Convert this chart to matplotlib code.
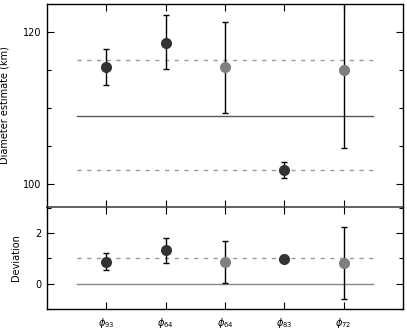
import matplotlib
matplotlib.use("Agg")
import matplotlib.pyplot as plt
from matplotlib.ticker import MultipleLocator

# Data
x_pos = [1, 2, 3, 4, 5]
tick_labels = [r"$\phi_{93}$", r"$\phi_{64}$", r"$\phi_{64}$", r"$\phi_{83}$", r"$\phi_{72}$"]
diam = [115.4, 118.6, 115.35, 101.8, 115.0]
diam_lo = [113.0, 115.1, 109.3, 100.8, 104.7]
diam_hi = [117.8, 122.2, 121.3, 102.9, 125.3]
dev = [0.87, 1.32, 0.87, 0.99, 0.83]
dev_lo = [0.54, 0.83, 0.04, 0.92, -0.60]
dev_hi = [1.21, 1.80, 1.67, 1.07, 2.24]
point_colors = ["#333333", "#333333", "#7f7f7f", "#333333", "#7f7f7f"]
mean_diam = 109.0
band_diam = [101.8, 116.3]
dev_ref = 1.0

plt.rcParams["font.family"] = "DejaVu Sans"
plt.rcParams["font.size"] = 7

fig = plt.figure(figsize=(4.07, 3.30), dpi=100)
ax1 = fig.add_axes([0.1155, 0.373, 0.8745, 0.615])
ax2 = fig.add_axes([0.1155, 0.064, 0.8745, 0.309])
ax2.patch.set_visible(False)


def draw_points(ax, vals, lo, hi):
    for xi, v, l, h, c in zip(x_pos, vals, lo, hi, point_colors):
        ax.errorbar([xi], [v], yerr=[[v - l], [h - v]], fmt="none",
                    ecolor="black", elinewidth=1.0, capsize=2, capthick=1.0,
                    zorder=2)
        ax.plot([xi], [v], "o", color=c, markersize=8, markeredgewidth=0,
                zorder=3)


# Top panel: diameter estimates
ax1.plot([0.5, 5.5], [mean_diam, mean_diam], color="#555555", lw=1.0)
for b in band_diam:
    ax1.plot([0.5, 5.5], [b, b], color="#999999", lw=1.0, ls=(0, (3, 4)))
draw_points(ax1, diam, diam_lo, diam_hi)
ax1.set_xlim(0, 6)
ax1.set_ylim(97.0, 123.7)
ax1.set_xticks(x_pos)
ax1.set_xticklabels([])
ax1.yaxis.set_major_locator(MultipleLocator(20))
ax1.yaxis.set_minor_locator(MultipleLocator(5))
ax1.set_ylabel("Diameter estimate (km)", labelpad=10)
ax1.spines["bottom"].set_color("#555555")
ax1.spines["bottom"].set_linewidth(1.3)

# Bottom panel: deviation
ax2.plot([0.5, 5.5], [0, 0], color="#888888", lw=1.0)
ax2.plot([0.5, 5.5], [dev_ref, dev_ref], color="#999999", lw=1.0, ls=(0, (3, 4)))
draw_points(ax2, dev, dev_lo, dev_hi)
ax2.set_xlim(0, 6)
ax2.set_ylim(-1.0, 3.04)
ax2.set_xticks(x_pos)
ax2.set_xticklabels(tick_labels, fontsize=7)
ax2.yaxis.set_major_locator(MultipleLocator(2))
ax2.yaxis.set_minor_locator(MultipleLocator(1))
ax2.set_ylabel("Deviation", labelpad=10)
ax2.spines["top"].set_visible(False)

for ax in (ax1, ax2):
    for name in ("left", "right", "top"):
        ax.spines[name].set_linewidth(1.0)
    ax.tick_params(which="both", direction="in", top=True, right=True,
                   width=0.8, pad=4)
    ax.tick_params(which="major", length=5)
    ax.tick_params(which="minor", length=3)
    ax.tick_params(axis="x", pad=5)
ax2.spines["bottom"].set_linewidth(1.0)

fig.savefig("out.png", dpi=100)
